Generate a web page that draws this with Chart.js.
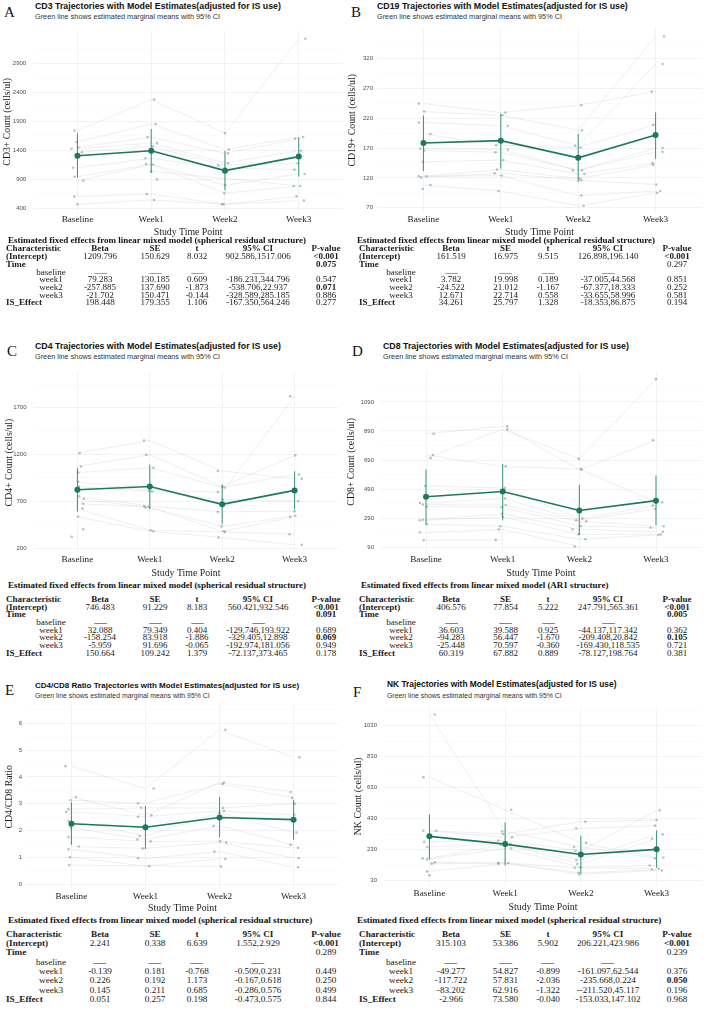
<!DOCTYPE html>
<html><head><meta charset="utf-8">
<script src="https://cdn.jsdelivr.net/npm/chart.js@4.4.1/dist/chart.umd.min.js"></script>
<style>
html,body{margin:0;padding:0;background:#fff;}
body{width:709px;height:1017px;overflow:hidden;position:relative;}
.t{position:absolute;white-space:nowrap;line-height:1;}
.ttl{font-family:"Liberation Sans",Arial,sans-serif;font-weight:bold;color:#111;}
.sub{font-family:"Liberation Sans",Arial,sans-serif;color:#333;}
.let{font-family:"Liberation Serif","Times New Roman",serif;color:#111;}
.tt{font-family:"Liberation Serif","Times New Roman",serif;font-weight:bold;color:#111;}
.c{font-family:"Liberation Serif","Times New Roman",serif;color:#1a1a1a;}
.b{font-weight:bold;}
.dash{display:inline-block;transform:scaleX(1.4);}
canvas{position:absolute;}
</style></head><body>
<script>
const CATEGORIES = ['Baseline', 'Week1', 'Week2', 'Week3'];

// ---------- CD3 ----------
const CD3_VALUES = [
  [1743, 2279, 1698, 3334], [1546, 1856, 1416, 1630], [1450, 1630, 1348, 1602],
  [1427, 1529, 1179, 1393], [1365, 1472, 1139, 1179], [1100, 1263, 1094, 1066],
  [942, 1162, 795, 992], [874, 1151, 660, 784], [603, 643, 468, 603],
  [468, 541, 468, 530], [null, 1038, null, 784], [null, 897, null, null]
];
const CD3_JITTER = [
  [-0.04, 0.04, 0, 0.09], [-0.01, 0.06, 0.05, 0.06], [0.01, -0.05, 0.04, -0.05],
  [-0.08, 0.08, 0.04, 0.03], [0.06, 0.02, -0.09, -0.01], [-0.06, -0.08, 0, -0.06],
  [-0.04, -0.07, 0, 0.08], [0.08, 0.02, -0.01, -0.07], [-0.04, -0.06, -0.04, -0.03],
  [0, 0.04, -0.02, 0.07], [0, 0, 0, 0.02], [0, 0.08, 0, 0]
];
const CD3_MEAN = [1308, 1393, 1049, 1292];
const CD3_LOWER = [925, 1009, 710, 942];
const CD3_UPPER = [1698, 1771, 1388, 1630];
const CD3_TICKS = [400, 900, 1400, 1900, 2400, 2900];

// ---------- CD19 ----------
const CD19_VALUES = [
  [244.6, 229.6, 241.8, 265], [231.3, 225, 200, 357], [213, 207.5, 174, 311],
  [193.6, 174.8, 171, 209], [169, 167.6, 132.6, 170], [165.9, 163, 132.6, 163.7],
  [147, 150, 126.5, 144.8], [122.7, 134, 118.8, 142], [121, 128, 116, 109],
  [122.7, 124, 90.5, 98], [108, 98, 73.3, 95], [101.6, null, null, null]
];
const CD19_JITTER = [
  [-0.06, 0.06, 0.04, -0.05], [0.01, 0.02, 0.05, 0.11], [-0.06, 0.09, -0.04, 0.09],
  [0.09, -0.06, 0.03, -0.03], [-0.04, 0.09, -0.07, 0.09], [0.01, -0.07, 0.05, 0.09],
  [-0.01, 0.03, 0.08, -0.04], [-0.06, -0.05, 0.02, -0.03], [-0.03, -0.08, 0.04, 0.01],
  [0.04, 0.01, 0.04, 0.06], [0.09, -0.03, 0.07, 0.02], [-0.01, 0, 0, 0]
];
const CD19_MEAN = [178.6, 182.5, 153.7, 192];
const CD19_LOWER = [131.5, 136, 113, 152];
const CD19_UPPER = [224.6, 228, 193.6, 229.6];
const CD19_TICKS = [70, 120, 170, 220, 270, 320];

// ---------- CD4 ----------
const CD4_VALUES = [
  [1215, 1350, 1025, 941], [1073, 1198, 858, 1191], [1007, 1059, 848, 987],
  [910, 813, 799, 1822], [858, 806, 720, 702], [754, 650, 588, 595],
  [727, 633, 432, 546], [675, 640, 380, 536], [623, 391, 373, 349],
  [536, 380, 314, 235], [401, null, null, null], [321, null, null, null]
];
const CD4_JITTER = [
  [0.03, -0.08, -0.06, 0.1], [0.05, -0.05, 0, 0.01], [0.01, 0.05, 0.03, 0.06],
  [0.01, -0.01, -0.06, -0.06], [0.02, 0.03, 0.01, 0.05], [0.02, -0.08, -0.06, 0],
  [0.09, -0.06, -0.01, 0.01], [0.08, -0.02, 0.02, -0.06], [0.07, 0.01, 0.04, -0.07],
  [0.01, 0.05, -0.05, 0.1], [0.08, 0, 0, 0], [-0.08, 0, 0, 0]
];
const CD4_MEAN = [824, 858, 668, 817];
const CD4_LOWER = [591, 616, 460, 616];
const CD4_UPPER = [1056, 1090, 876, 1021];
const CD4_TICKS = [200, 700, 1200, 1700];

// ---------- CD8 ----------
const CD8_VALUES = [
  [871, 923, 624, 826], [703, 901, 698, 1247], [725, 646, 628, 399],
  [511, 498, 286, 376], [394, 425, 275, 353], [383, 380, 268, 234],
  [369, 365, 236, 223], [279, 320, 212, 196], [275, 299, 178, 178],
  [248, 234, 144, 173], [191, 212, 94.5, null], [137, 140, null, null]
];
const CD8_JITTER = [
  [0.1, 0.06, 0.03, -0.04], [0.06, 0.06, -0.01, 0], [0.09, 0.04, 0.02, 0.08],
  [-0.01, 0.03, 0.04, -0.04], [-0.08, 0.03, -0.04, -0.01], [-0.04, 0.04, 0.09, 0.1],
  [0.01, -0.01, 0.02, -0.07], [-0.04, -0.01, -0.09, 0.09], [-0.08, 0, -0.01, 0.06],
  [0.01, -0.03, 0.08, 0.03], [-0.08, -0.05, -0.06, 0], [-0.03, -0.09, 0, 0]
];
const CD8_MEAN = [437, 473, 342, 410];
const CD8_LOWER = [248, 275, 173, 241];
const CD8_UPPER = [624, 662, 518, 583];
const CD8_TICKS = [90, 290, 490, 690, 890, 1090];

// ---------- CD4/CD8 ratio ----------
const RATIO_VALUES = [
  [4.40, 3.57, 5.75, 4.73], [3.25, 2.57, 3.79, 3.44], [3.13, 3.02, 3.74, 3.22],
  [2.80, 2.85, 2.84, 3.00], [2.70, 2.52, 2.73, 2.59], [2.36, 1.80, 2.67, 1.93],
  [2.11, 1.67, 2.18, 1.47], [1.76, 1.60, 1.61, 1.36], [1.41, 1.34, 1.56, 0.98],
  [1.31, 0.97, 1.22, 0.64], [1.01, 0.68, 0.95, null], [0.72, null, 0.67, null]
];
const RATIO_JITTER = [
  [-0.08, 0.11, 0.08, 0.08], [0.06, 0.08, 0.06, -0.04], [-0.01, -0.1, 0.04, -0.02],
  [-0.04, -0.06, 0.05, 0.02], [-0.07, -0.1, 0.06, 0.01], [-0.04, -0.08, 0, 0.04],
  [-0.01, -0.11, -0.08, -0.04], [-0.04, 0.07, 0.01, 0.06], [0.1, -0.04, 0.09, 0.07],
  [-0.04, -0.1, -0.07, 0.06], [-0.02, 0.05, 0.08, 0], [-0.03, 0, 0.02, 0]
];
const RATIO_MEAN = [2.26, 2.13, 2.49, 2.41];
const RATIO_LOWER = [1.48, 1.32, 1.75, 1.66];
const RATIO_UPPER = [3.06, 2.91, 3.25, 3.15];
const RATIO_TICKS = [0, 1, 2, 3, 4, 5, 6];

// ---------- NK ----------
const NK_VALUES = [
  [1103, 349, 248, 174.6], [699, 489, 275, 181], [353, 332, 411.5, 422],
  [353, 311, 367.5, 386], [281.6, 290, 223, 485], [248, 269, 164, 330],
  [175, 265, 139, 302.5], [170, 240, 118, 128.5], [149, 145, 114, 107.6],
  [141, 145, 82, 103], [91, 141, 72, 97], [65.6, null, null, null]
];
const NK_JITTER = [
  [0.07, -0.04, -0.09, -0.02], [-0.08, 0.08, 0.07, 0.09], [-0.08, -0.03, 0.06, 0],
  [0.09, 0.09, -0.06, -0.02], [-0.07, -0.09, -0.07, 0.04], [-0.03, 0.07, -0.06, 0.08],
  [-0.09, -0.06, -0.05, -0.06], [-0.03, 0.08, -0.01, -0.09], [0.07, -0.09, -0.08, 0.03],
  [0.03, 0.04, -0.03, -0.06], [-0.03, -0.09, -0.02, 0.07], [0, 0, 0, 0]
];
const NK_MEAN = [317, 267, 200, 233];
const NK_LOWER = [170, 128.5, 76, 114];
const NK_UPPER = [458, 407, 321, 355];
const NK_TICKS = [30, 230, 430, 630, 830, 1030];

// ---------- Tables ----------
const TABLE_HEADER = ['Characteristic', 'Beta', 'SE', 't', '95% CI', 'P-value'];
const CD3_TABLE = [
  ['(Intercept)', '1209.796', '150.629', '8.032', '902.586,1517.006', '<0.001'],
  ['Time', '', '', '', '', '0.075'],
  ['baseline', '—', '—', '—', '—', ''],
  ['week1', '79.283', '130.185', '0.609', '-186.231,344.796', '0.547'],
  ['week2', '-257.885', '137.690', '-1.873', '-538.706,22.937', '0.071'],
  ['week3', '-21.702', '150.471', '-0.144', '-328.589,285.185', '0.886'],
  ['IS_Effect', '198.448', '179.355', '1.106', '-167.350,564.246', '0.277']
];
const CD3_PBOLD = [1, 1, 0, 0, 1, 0, 0];
const CD19_TABLE = [
  ['(Intercept)', '161.519', '16.975', '9.515', '126.898,196.140', '<0.001'],
  ['Time', '', '', '', '', '0.297'],
  ['baseline', '—', '—', '—', '—', ''],
  ['week1', '3.782', '19.998', '0.189', '-37.005,44.568', '0.851'],
  ['week2', '-24.522', '21.012', '-1.167', '-67.377,18.333', '0.252'],
  ['week3', '12.671', '22.714', '0.558', '-33.655,58.996', '0.581'],
  ['IS_Effect', '34.261', '25.797', '1.328', '-18.353,86.875', '0.194']
];
const CD19_PBOLD = [1, 0, 0, 0, 0, 0, 0];
const CD4_TABLE = [
  ['(Intercept)', '746.483', '91.229', '8.183', '560.421,932.546', '<0.001'],
  ['Time', '', '', '', '', '0.091'],
  ['baseline', '—', '—', '—', '—', ''],
  ['week1', '32.088', '79.349', '0.404', '-129.746,193.922', '0.689'],
  ['week2', '-158.254', '83.918', '-1.886', '-329.405,12.898', '0.069'],
  ['week3', '-5.959', '91.696', '-0.065', '-192.974,181.056', '0.949'],
  ['IS_Effect', '150.664', '109.242', '1.379', '-72.137,373.465', '0.178']
];
const CD4_PBOLD = [1, 1, 0, 0, 1, 0, 0];
const CD8_TABLE = [
  ['(Intercept)', '406.576', '77.854', '5.222', '247.791,565.361', '<0.001'],
  ['Time', '', '', '', '', '0.005'],
  ['baseline', '—', '—', '—', '—', ''],
  ['week1', '36.603', '39.588', '0.925', '-44.137,117.342', '0.362'],
  ['week2', '-94.283', '56.447', '-1.670', '-209.408,20.842', '0.105'],
  ['week3', '-25.448', '70.597', '-0.360', '-169.430,118.535', '0.721'],
  ['IS_Effect', '60.319', '67.882', '0.889', '-78.127,198.764', '0.381']
];
const CD8_PBOLD = [1, 1, 0, 0, 1, 0, 0];
const RATIO_TABLE = [
  ['(Intercept)', '2.241', '0.338', '6.639', '1.552,2.929', '<0.001'],
  ['Time', '', '', '', '', '0.289'],
  ['baseline', '—', '—', '—', '—', ''],
  ['week1', '-0.139', '0.181', '-0.768', '-0.509,0.231', '0.449'],
  ['week2', '0.226', '0.192', '1.173', '-0.167,0.618', '0.250'],
  ['week3', '0.145', '0.211', '0.685', '-0.286,0.576', '0.499'],
  ['IS_Effect', '0.051', '0.257', '0.198', '-0.473,0.575', '0.844']
];
const RATIO_PBOLD = [1, 0, 0, 0, 0, 0, 0];
const NK_TABLE = [
  ['(Intercept)', '315.103', '53.386', '5.902', '206.221,423.986', '<0.001'],
  ['Time', '', '', '', '', '0.239'],
  ['baseline', '—', '—', '—', '—', ''],
  ['week1', '-49.277', '54.827', '-0.899', '-161.097,62.544', '0.376'],
  ['week2', '-117.722', '57.831', '-2.036', '-235.668,0.224', '0.050'],
  ['week3', '-83.202', '62.916', '-1.322', '--211.520,45.117', '0.196'],
  ['IS_Effect', '-2.966', '73.580', '-0.040', '-153.033,147.102', '0.968']
];
const NK_PBOLD = [1, 0, 0, 0, 1, 0, 0];

const SUBTITLE = 'Green line shows estimated marginal means with 95% CI';
const TT_SPH = 'Estimated fixed effects from linear mixed model (spherical residual structure)';
const TT_AR1 = 'Estimated fixed effects from linear mixed model (AR1 structure)';

// ---------- helpers ----------
function addText(cls, txt, x, y, fs, center) {
  const d = document.createElement('div');
  d.className = 't ' + cls;
  d.textContent = txt;
  d.style.fontSize = fs + 'px';
  d.style.height = fs + 'px';
  d.style.top = (y - fs / 2) + 'px';
  if (center) { d.style.left = (x - 150) + 'px'; d.style.width = '300px'; d.style.textAlign = 'center'; }
  else d.style.left = x + 'px';
  document.body.appendChild(d);
  return d;
}

function makeChart(P) {
  const FS_T = 9.8, LH_T = FS_T * 1.2;
  const FS_X = 9.2;
  const cl = Math.round(P.yTitleX - LH_T / 2);
  const ct = Math.round(P.plotT - 6);
  const cb = P.xTitleY + LH_T / 2;
  const w = Math.round(P.plotR - cl);
  const h = Math.round(cb - ct);
  const yW = P.plotL - cl;
  const xH = (ct + h) - P.plotB;
  const xTickPad = P.xLabelY - P.plotB - FS_X * 1.2 / 2;
  const cv = document.createElement('canvas');
  cv.width = w; cv.height = h;
  cv.style.left = cl + 'px'; cv.style.top = ct + 'px';
  cv.style.width = w + 'px'; cv.style.height = h + 'px';
  document.body.appendChild(cv);

  const major = P.ticks;
  const step = major[1] - major[0];
  const all = [];
  for (let i = -1; i < major.length; i++) {
    const m = major[0] + (i + 0.5) * step;
    if (i >= 0) all.push(major[i]);
    if (m > P.yMin && m < P.yMax) all.push(m);
  }
  all.sort((a, b) => a - b);
  const isMajor = v => major.some(m => Math.abs(m - v) < 1e-9);

  const datasets = [];
  P.values.forEach(s => {
    const pts = [];
    s.forEach((v, t) => { if (v !== null) pts.push({ x: t, y: v }); });
    datasets.push({ data: pts, showLine: true, borderColor: 'rgba(185,185,185,0.38)', borderWidth: 0.6, pointRadius: 0, order: 5 });
  });
  const jp = [];
  P.values.forEach((s, i) => s.forEach((v, t) => { if (v !== null) jp.push({ x: t + P.jitter[i][t], y: v }); }));
  datasets.push({ data: jp, pointRadius: 1.3, pointBackgroundColor: 'rgba(110,150,180,0.55)', pointBorderWidth: 0, order: 4 });
  const ci = [];
  P.mean.forEach((m, t) => { ci.push({ x: t, y: P.lower[t] }, { x: t, y: P.upper[t] }, { x: t, y: null }); });
  datasets.push({ data: ci, showLine: true, spanGaps: false, borderColor: 'rgba(40,140,100,0.85)', borderWidth: 1.1, pointRadius: 0, order: 3 });
  datasets.push({ data: P.mean.map((m, t) => ({ x: t, y: m })), showLine: true, borderColor: '#1c7a58', borderWidth: 1.6,
    pointRadius: 3, pointBackgroundColor: '#1c7a58', pointBorderWidth: 0, order: 2 });

  new Chart(cv, {
    type: 'scatter',
    data: { datasets },
    options: {
      responsive: false, animation: false, devicePixelRatio: 1,
      layout: { padding: { top: 6, left: 0, right: 0, bottom: 0 } },
      plugins: { legend: { display: false }, tooltip: { enabled: false } },
      scales: {
        x: {
          type: 'linear', min: -0.6, max: 3.6,
          afterBuildTicks: s => { s.ticks = CATEGORIES.map((c, i) => ({ value: i })); },
          afterFit: s => { s.height = xH; },
          ticks: { callback: v => CATEGORIES[v], autoSkip: false, maxRotation: 0, padding: xTickPad,
            font: { family: 'Liberation Serif', size: FS_X }, color: '#1a1a1a' },
          grid: { color: '#ebebeb', lineWidth: 0.6, drawTicks: false },
          border: { display: false },
          title: { display: true, text: 'Study Time Point', padding: 0,
            font: { family: 'Liberation Serif', size: FS_T }, color: '#1a1a1a' }
        },
        y: {
          type: 'linear', min: P.yMin, max: P.yMax,
          afterBuildTicks: s => { s.ticks = all.map(v => ({ value: v })); },
          afterFit: s => { s.width = yW; },
          ticks: { callback: v => isMajor(v) ? String(v) : '', autoSkip: false, padding: P.yTickPad,
            font: { family: 'Liberation Sans', size: 6 }, color: '#4d4d4d' },
          grid: {
            color: ctx => (ctx.tick && isMajor(ctx.tick.value)) ? '#e9e9e9' : '#f4f4f4',
            lineWidth: ctx => (ctx.tick && isMajor(ctx.tick.value)) ? 0.6 : 0.4,
            drawTicks: false
          },
          border: { display: false },
          title: { display: true, text: P.yTitle, padding: 0,
            font: { family: 'Liberation Serif', size: FS_T }, color: '#1a1a1a' }
        }
      }
    }
  });
}

function makeTable(T) {
  addText('tt', T.title, T.titleLeft, T.titleY, T.tfs, false);
  const allRows = [TABLE_HEADER].concat(T.rows);
  allRows.forEach((r, ri) => {
    const y = T.rowY[ri];
    const header = ri === 0;
    const lab = r[0];
    const boldLab = header || lab === '(Intercept)' || lab === 'Time' || lab === 'IS_Effect';
    if (boldLab) addText('c b', lab, T.charLeft, y, T.fs, false);
    else addText('c', lab, T.subCenter, y, T.fs, true);
    for (let k = 1; k <= 5; k++) {
      const txt = r[k];
      if (!txt) continue;
      let cls = 'c';
      if (header || (k === 5 && T.pbold[ri - 1])) cls += ' b';
      const e = addText(cls, '', T.cols[k - 1], y, T.fs, true);
      if (txt === '—') { const s = document.createElement('span'); s.className = 'dash'; s.textContent = txt; e.appendChild(s); }
      else e.textContent = txt;
    }
  });
}

// ---------- layout ----------
const LEFT_COLS = [100, 155, 197, 258, 326];
const RIGHT_COLS = [451, 505.5, 548, 608, 677];
const ROWS_TOP = [248.6, 256.6, 264.3, 272, 279.8, 287.4, 295, 302.6];
const ROWS_MID = [599, 607, 614.6, 622.2, 630, 637.8, 645.5, 653.2];
const ROWS_BOT = [934.5, 943.8, 953, 962.3, 971.6, 981, 990.3, 999.8];

[['A', 4, 12], ['B', 351, 12], ['C', 7, 351], ['D', 352, 351], ['E', 5, 690], ['F', 353, 692]]
  .forEach(l => addText('let', l[0], l[1], l[2], 15, false));
[
  ['CD3 Trajectories with Model Estimates(adjusted for IS use)', 35, 6.5, 16.6, 8.8, 7.3],
  ['CD19 Trajectories with Model Estimates(adjusted for IS use)', 377, 6.5, 16.3, 8.8, 7.3],
  ['CD4 Trajectories with Model Estimates(adjusted for IS use)', 35, 346.5, 356.3, 8.8, 7.3],
  ['CD8 Trajectories with Model Estimates(adjusted for IS use)', 383, 346.5, 356.5, 8.8, 7.3],
  ['CD4/CD8 Ratio Trajectories with Model Estimates(adjusted for IS use)', 35, 685.5, 696.5, 8.0, 6.9],
  ['NK Trajectories with Model Estimates(adjusted for IS use)', 387, 684.5, 696, 8.4, 6.9]
].forEach(t => { addText('ttl', t[0], t[1], t[2], t[4], false); addText('sub', SUBTITLE, t[1], t[3], t[5], false); });

makeChart({ values: CD3_VALUES, jitter: CD3_JITTER, mean: CD3_MEAN, lower: CD3_LOWER, upper: CD3_UPPER, ticks: CD3_TICKS,
  yTitle: 'CD3+ Count (cells/ul)', plotL: 33.2, plotR: 346.8, plotT: 26, plotB: 213, yMin: 315.5, yMax: 3474,
  yTitleX: 7.5, xLabelY: 220, xTitleY: 232, yTickPad: 7 });
makeChart({ values: CD19_VALUES, jitter: CD19_JITTER, mean: CD19_MEAN, lower: CD19_LOWER, upper: CD19_UPPER, ticks: CD19_TICKS,
  yTitle: 'CD19+ Count (cells/ul)', plotL: 377, plotR: 706, plotT: 26, plotB: 213, yMin: 61.2, yMax: 372,
  yTitleX: 353, xLabelY: 220, xTitleY: 232, yTickPad: 4 });
makeChart({ values: CD4_VALUES, jitter: CD4_JITTER, mean: CD4_MEAN, lower: CD4_LOWER, upper: CD4_UPPER, ticks: CD4_TICKS,
  yTitle: 'CD4+ Count (cells/ul)', plotL: 34, plotR: 342, plotT: 367, plotB: 553, yMin: 148, yMax: 2081,
  yTitleX: 9.5, xLabelY: 559.7, xTitleY: 573, yTickPad: 7.5 });
makeChart({ values: CD8_VALUES, jitter: CD8_JITTER, mean: CD8_MEAN, lower: CD8_LOWER, upper: CD8_UPPER, ticks: CD8_TICKS,
  yTitle: 'CD8+ Count (cells/ul)', plotL: 380, plotR: 706.4, plotT: 367, plotB: 553, yMin: 49.5, yMax: 1306,
  yTitleX: 352, xLabelY: 559.7, xTitleY: 573, yTickPad: 6 });
makeChart({ values: RATIO_VALUES, jitter: RATIO_JITTER, mean: RATIO_MEAN, lower: RATIO_LOWER, upper: RATIO_UPPER, ticks: RATIO_TICKS,
  yTitle: 'CD4/CD8 Ratio', plotL: 27, plotR: 342, plotT: 702, plotB: 889, yMin: -0.17, yMax: 6.69,
  yTitleX: 9.5, xLabelY: 896.5, xTitleY: 908.3, yTickPad: 5 });
makeChart({ values: NK_VALUES, jitter: NK_JITTER, mean: NK_MEAN, lower: NK_LOWER, upper: NK_UPPER, ticks: NK_TICKS,
  yTitle: 'NK Count (cells/ul)', plotL: 384, plotR: 706, plotT: 702, plotB: 886, yMin: -3.3, yMax: 1154,
  yTitleX: 359, xLabelY: 894, xTitleY: 906.7, yTickPad: 7 });

makeTable({ title: TT_SPH, titleLeft: 8, titleY: 240.5, rowY: ROWS_TOP, charLeft: 6, subCenter: 51, cols: LEFT_COLS, rows: CD3_TABLE, pbold: CD3_PBOLD, fs: 9, tfs: 9 });
makeTable({ title: TT_SPH, titleLeft: 357, titleY: 240.5, rowY: ROWS_TOP, charLeft: 359, subCenter: 401, cols: RIGHT_COLS, rows: CD19_TABLE, pbold: CD19_PBOLD, fs: 9, tfs: 9 });
makeTable({ title: TT_SPH, titleLeft: 8, titleY: 585.7, rowY: ROWS_MID, charLeft: 6, subCenter: 51, cols: LEFT_COLS, rows: CD4_TABLE, pbold: CD4_PBOLD, fs: 9, tfs: 9 });
makeTable({ title: TT_AR1, titleLeft: 361, titleY: 585.7, rowY: ROWS_MID, charLeft: 359, subCenter: 401, cols: RIGHT_COLS, rows: CD8_TABLE, pbold: CD8_PBOLD, fs: 9, tfs: 9 });
makeTable({ title: TT_SPH, titleLeft: 8, titleY: 921, rowY: ROWS_BOT, charLeft: 6, subCenter: 51, cols: LEFT_COLS, rows: RATIO_TABLE, pbold: RATIO_PBOLD, fs: 9.2, tfs: 9.2 });
makeTable({ title: TT_SPH, titleLeft: 357, titleY: 920.5, rowY: ROWS_BOT, charLeft: 359, subCenter: 401, cols: RIGHT_COLS, rows: NK_TABLE, pbold: NK_PBOLD, fs: 9.2, tfs: 9.2 });
</script>
</body></html>
